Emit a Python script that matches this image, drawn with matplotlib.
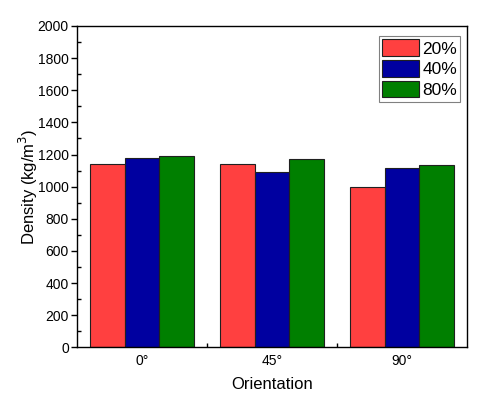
import numpy as np
import matplotlib
matplotlib.use('Agg')
import matplotlib.pyplot as plt
from matplotlib.ticker import MultipleLocator, FixedLocator

plt.rcParams['font.family'] = ['Liberation Sans', 'DejaVu Sans']

# Datos
orientaciones = ['0°', '45°', '90°']
series = ['20%', '40%', '80%']
dens_20 = [1142, 1138, 999]
dens_40 = [1181, 1092, 1115]
dens_80 = [1192, 1175, 1136]
colores = ['#FF4040', '#0000A0', '#007F00']

fig = plt.figure(figsize=(4.85, 4.12), dpi=100)
ax = fig.add_axes([0.159, 0.157, 0.804, 0.780])

x = np.arange(len(orientaciones))
ancho = 0.266
for i, (vals, nombre) in enumerate(zip([dens_20, dens_40, dens_80], series)):
    ax.bar(x + (i - 1) * ancho, vals, width=ancho, color=colores[i],
           edgecolor='#202020', linewidth=0.8, label=nombre)

ax.set_xlim(-0.5, 2.5)
ax.set_ylim(0, 2000)
ax.set_xticks(x)
ax.set_xticklabels(orientaciones, fontsize=10)
ax.xaxis.set_minor_locator(FixedLocator([0.5, 1.5]))
ax.tick_params(axis='x', which='major', length=0, pad=5)
ax.tick_params(axis='x', which='minor', direction='in', length=3, width=1)
ax.yaxis.set_major_locator(MultipleLocator(200))
ax.yaxis.set_minor_locator(MultipleLocator(100))
ax.tick_params(axis='y', which='major', direction='out', length=4, width=1,
               labelsize=10, pad=2)
ax.tick_params(axis='y', which='minor', direction='in', length=3, width=1)
for s in ax.spines.values():
    s.set_linewidth(1.0)

ax.set_xlabel('Orientation', fontsize=12, labelpad=6)
ax.set_ylabel('Density (kg/m$^3$)', fontsize=12, labelpad=-2)

leg = ax.legend(loc='upper right', bbox_to_anchor=(0.983, 0.969),
                fontsize=12.5, frameon=True, fancybox=False,
                edgecolor='#606060', handlelength=2.1, handleheight=1.1,
                handletextpad=0.2, labelspacing=0.2, borderpad=0.2,
                borderaxespad=0.0)
leg.get_frame().set_linewidth(0.8)

fig.savefig('out.png', dpi=100)
